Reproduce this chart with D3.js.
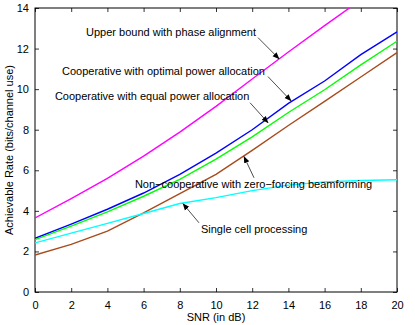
<!DOCTYPE html>
<html>
<head>
<meta charset="utf-8">
<script src="https://cdn.jsdelivr.net/npm/d3@7"></script>
<style>
	body { margin: 0; background: #fff; }
	text { font-family: "Liberation Sans", Arial, Helvetica, sans-serif; font-size: 11px; fill: #000; }
</style>
</head>
<body>
<div id="chart"></div>
<script>
// Achievable rate vs SNR

var snr = [0, 2, 4, 6, 8, 10, 12, 14, 16, 18, 20];
var upperBound = [3.65, 4.6, 5.6, 6.7, 7.88, 9.15, 10.5, 11.83, 13.13, 14.4, 15.7];
var coopOptimal = [2.65, 3.35, 4.08, 4.88, 5.8, 6.85, 8.0, 9.3, 10.4, 11.7, 12.82];
var coopEqual = [2.58, 3.25, 3.95, 4.72, 5.55, 6.55, 7.65, 8.85, 9.97, 11.2, 12.36];
var nonCoopZF = [1.82, 2.35, 3.0, 3.9, 4.85, 5.8, 6.98, 8.21, 9.4, 10.6, 11.8];
var singleCell = [2.42, 2.9, 3.38, 3.87, 4.36, 4.65, 5.0, 5.27, 5.43, 5.5, 5.53];

var xTicks = [0, 2, 4, 6, 8, 10, 12, 14, 16, 18, 20];
var yTicks = [0, 2, 4, 6, 8, 10, 12, 14];

var series = [
	{ name: 'upper', values: upperBound, color: '#ff00ff' },
	{ name: 'optimal', values: coopOptimal, color: '#0000ff' },
	{ name: 'equal', values: coopEqual, color: '#00ff00' },
	{ name: 'nonCoop', values: nonCoopZF, color: '#a84a1c' },
	{ name: 'single', values: singleCell, color: '#00ffff' }
];

// text annotations, anchored in data units: text start, arrow tail, arrow head
var notes = [
	{ text: 'Upper bound with phase alignment', at: [2.82, 12.79], from: [12.32, 12.54], to: [13.48, 11.5] },
	{ text: 'Cooperative with optimal power allocation', at: [1.49, 10.91], from: [12.87, 10.62], to: [14.14, 9.43] },
	{ text: 'Cooperative with equal power allocation', at: [1.1, 9.63], from: [11.88, 9.33], to: [12.87, 8.35] },
	{ text: 'Non\u2212cooperative with zero\u2212forcing beamforming', at: [5.52, 5.33], from: [12.1, 5.63], to: [11.55, 6.67] },
	{ text: 'Single cell processing', at: [9.17, 3.11], from: [9.06, 3.41], to: [8.18, 4.35] }
];

var width = 415,
	height = 325,
	margin = {top: 8, right: 18, bottom: 33, left: 35},
	innerW = width - margin.left - margin.right,
	innerH = height - margin.top - margin.bottom;

var x = d3.scaleLinear().domain([0, 20]).range([0, innerW]);
var y = d3.scaleLinear().domain([0, 14]).range([innerH, 0]);

var svg = d3.select('#chart').append('svg')
	.attr('width', width)
	.attr('height', height);

svg.append('defs').append('marker')
	.attr('id', 'head')
	.attr('viewBox', '0 0 10 10')
	.attr('refX', 9)
	.attr('refY', 5)
	.attr('markerWidth', 7)
	.attr('markerHeight', 7)
	.attr('markerUnits', 'userSpaceOnUse')
	.attr('orient', 'auto')
	.append('path')
	.attr('d', 'M0,1 L10,5 L0,9 Z')
	.attr('fill', '#000');

var g = svg.append('g')
	.attr('transform', 'translate(' + margin.left + ',' + margin.top + ')');

g.append('clipPath').attr('id', 'clip')
	.append('rect').attr('width', innerW).attr('height', innerH);

// axes, ticks pointing inward on all four sides
var axes = [
	d3.axisBottom(x).tickValues(xTicks).tickSizeInner(-4).tickSizeOuter(0).tickPadding(9),
	d3.axisLeft(y).tickValues(yTicks).tickSizeInner(-4).tickSizeOuter(0).tickPadding(6),
	d3.axisTop(x).tickValues(xTicks).tickSizeInner(-4).tickSizeOuter(0).tickFormat(''),
	d3.axisRight(y).tickValues(yTicks).tickSizeInner(-4).tickSizeOuter(0).tickFormat('')
];
var shifts = ['0,' + innerH, '0,0', '0,0', innerW + ',0'];

axes.forEach(function(a, i) {
	var ax = g.append('g')
		.attr('transform', 'translate(' + shifts[i] + ')')
		.call(a);
	ax.select('.domain').remove();
	ax.selectAll('line').attr('stroke', '#000').attr('stroke-width', 0.8);
	ax.selectAll('text')
		.style('font-family', '"Liberation Sans", Arial, sans-serif')
		.style('font-size', '11px')
		.attr('fill', '#000');
});

g.append('rect')
	.attr('width', innerW)
	.attr('height', innerH)
	.attr('fill', 'none')
	.attr('stroke', '#000')
	.attr('stroke-width', 1);

var line = d3.line()
	.x(function(d, i) { return x(snr[i]); })
	.y(function(d) { return y(d); });

g.append('g').attr('clip-path', 'url(#clip)')
	.selectAll('path')
	.data(series)
	.enter().append('path')
	.attr('d', function(d) { return line(d.values); })
	.attr('fill', 'none')
	.attr('stroke', function(d) { return d.color; })
	.attr('stroke-width', 1.4);

// annotations
g.selectAll('.note')
	.data(notes)
	.enter().append('text')
	.attr('class', 'note')
	.attr('x', function(d) { return x(d.at[0]); })
	.attr('y', function(d) { return y(d.at[1]); })
	.attr('dy', '0.35em')
	.text(function(d) { return d.text; });

g.selectAll('.arrow')
	.data(notes)
	.enter().append('line')
	.attr('class', 'arrow')
	.attr('x1', function(d) { return x(d.from[0]); })
	.attr('y1', function(d) { return y(d.from[1]); })
	.attr('x2', function(d) { return x(d.to[0]); })
	.attr('y2', function(d) { return y(d.to[1]); })
	.attr('stroke', '#000')
	.attr('stroke-width', 0.7)
	.attr('marker-end', 'url(#head)');

// axis titles
svg.append('text')
	.attr('x', margin.left + innerW / 2)
	.attr('y', height - 4)
	.attr('text-anchor', 'middle')
	.text('SNR (in dB)');

svg.append('text')
	.attr('transform', 'translate(13,' + (margin.top + innerH / 2) + ') rotate(-90)')
	.attr('text-anchor', 'middle')
	.text('Achievable Rate (bits/channel use)');
</script>
</body>
</html>
